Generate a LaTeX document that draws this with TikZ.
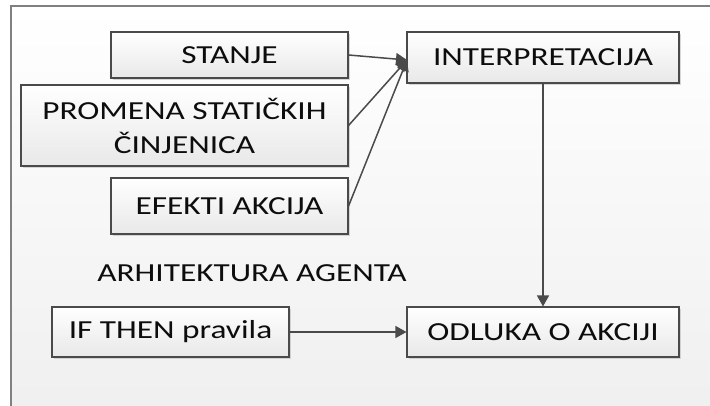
\documentclass[tikz,border=0pt]{standalone}
\usepackage{fontspec}
\setmainfont{Carlito}[FakeStretch=1.28]
\usetikzlibrary{arrows.meta,shadows}
\definecolor{edgegray}{HTML}{4A4A4A}
\definecolor{framegray}{HTML}{808080}
\tikzset{
  box/.style={draw=edgegray, line width=1.1pt, rectangle, inner sep=0pt,
    top color=white, bottom color=black!9, align=center, text=black!95,
    font=\fontsize{26}{34}\selectfont,
    drop shadow={shadow xshift=1.8pt, shadow yshift=-1.8pt, fill=black!30, opacity=0.5}},
  link/.style={draw=edgegray, line width=1.5pt,
    -{Triangle[length=11pt, width=12pt]}},
  caption/.style={font=\fontsize{26}{30}\selectfont, text=black!95, inner sep=0pt}
}
\begin{document}
\begin{tikzpicture}[x=1pt, y=-1pt]
  % page and framed panel
  \useasboundingbox (0,0) rectangle (710,406);
  \fill[white] (0,0) rectangle (710,406);
  \shade[top color=white, bottom color=black!6] (11,6) rectangle (710,406);
  \draw[framegray, line width=1.4pt] (11,406) -- (11,6) -- (710,6);

  % inputs
  \node[box, minimum width=237pt, minimum height=46pt] (stanje) at (229.5,55) {STANJE};
  \node[box, minimum width=327pt, minimum height=81pt] (promena) at (184.5,125.5)
    {PROMENA STATIČKIH\\ČINJENICA};
  \node[box, minimum width=237pt, minimum height=56pt] (efekti) at (229.5,206) {EFEKTI AKCIJA};

  % processing
  \node[box, minimum width=272pt, minimum height=51pt] (interp) at (543,57.5) {INTERPRETACIJA};
  \node[box, minimum width=237pt, minimum height=50pt] (pravila) at (170.5,332) {IF THEN pravila};
  \node[box, minimum width=272pt, minimum height=50pt] (odluka) at (543,332) {ODLUKA O AKCIJI};

  \node[caption] (naslov) at (252,273) {ARHITEKTURA AGENTA};

  % connectors
  \coordinate (tgt) at (407,60);
  \draw[link] (stanje.east) -- (tgt);
  \draw[link] (promena.east) -- (tgt);
  \draw[link] (efekti.east) -- (tgt);
  \draw[link] (interp.south) -- (odluka.north);
  \draw[link] (pravila.east) -- (odluka.west);
\end{tikzpicture}
\end{document}
